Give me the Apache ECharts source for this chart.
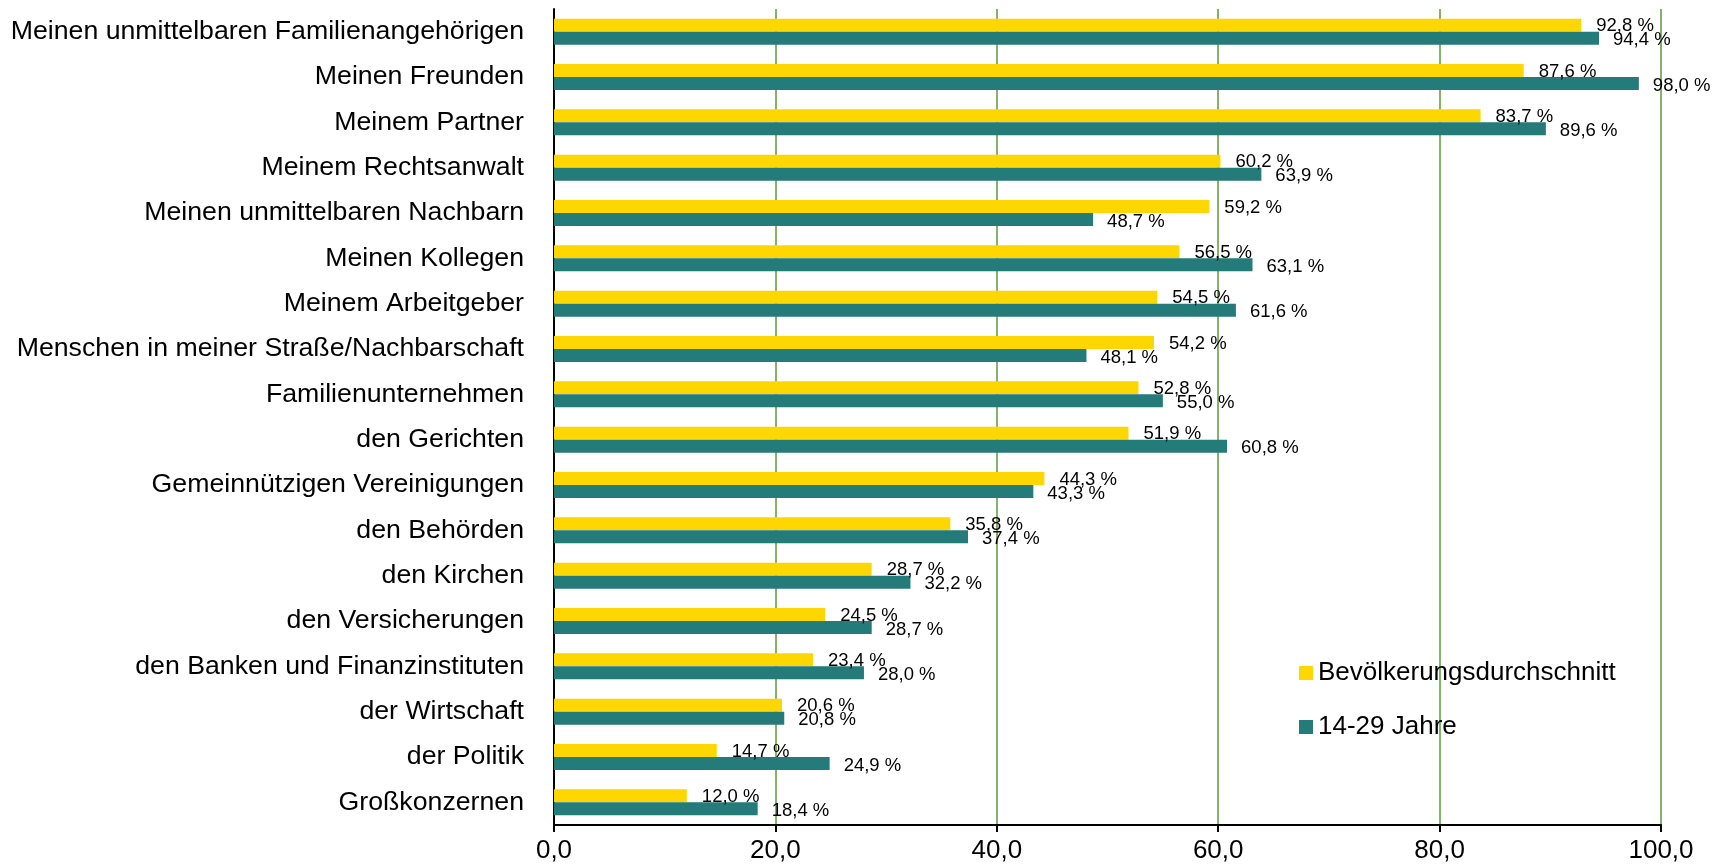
<!DOCTYPE html>
<html><head><meta charset="utf-8">
<script src="https://cdn.jsdelivr.net/npm/echarts@6/dist/echarts.min.js"></script>
<style>html,body{margin:0;padding:0;background:#fff}#c{width:1725px;height:867px}</style>
</head><body><div id="c"></div>
<script>
const categories = ["Meinen unmittelbaren Familienangehörigen","Meinen Freunden","Meinem Partner","Meinem Rechtsanwalt","Meinen unmittelbaren Nachbarn","Meinen Kollegen","Meinem Arbeitgeber","Menschen in meiner Straße/Nachbarschaft","Familienunternehmen","den Gerichten","Gemeinnützigen Vereinigungen","den Behörden","den Kirchen","den Versicherungen","den Banken und Finanzinstituten","der Wirtschaft","der Politik","Großkonzernen"];
const seriesNames = ["Bevölkerungsdurchschnitt","14-29 Jahre"];
const avgValues = [92.8,87.6,83.7,60.2,59.2,56.5,54.5,54.2,52.8,51.9,44.3,35.8,28.7,24.5,23.4,20.6,14.7,12.0];
const youthValues = [94.4,98.0,89.6,63.9,48.7,63.1,61.6,48.1,55.0,60.8,43.3,37.4,32.2,28.7,28.0,20.8,24.9,18.4];
const xTicks = [0,20,40,60,80,100];

const fmtPct = p => p.value.toFixed(1).replace('.', ',') + ' %';
const font = 'Liberation Sans, Arial, sans-serif';
const chart = echarts.init(document.getElementById('c'), null, {renderer:'canvas'});
chart.setOption({
  animation:false,
  textStyle:{fontFamily:font},
  grid:{left:554,right:64,top:9,bottom:42,containLabel:false},
  legend:{
    orient:'vertical', left:1294, top:655, itemWidth:14, itemHeight:14, itemGap:28,
    icon:'rect',
    textStyle:{fontSize:26, color:'#000', fontFamily:font},
    data:seriesNames
  },
  xAxis:{
    type:'value', min:xTicks[0], max:xTicks[xTicks.length-1], interval:20,
    axisLine:{show:true, lineStyle:{color:'#000', width:2}},
    axisTick:{show:true, length:7, lineStyle:{color:'#000', width:2}},
    axisLabel:{fontSize:26, color:'#000', margin:13, formatter:v=>v.toFixed(1).replace('.', ',')},
    splitLine:{show:true, lineStyle:{color:'#82B366', width:2}}
  },
  yAxis:{
    type:'category', data:categories, inverse:true,
    axisLine:{show:true, lineStyle:{color:'#000', width:2}},
    axisTick:{show:false},
    axisLabel:{fontSize:26.7, color:'#000', margin:30}
  },
  series:[
    {name:seriesNames[0], type:'bar', data:avgValues, barWidth:13, barGap:'0%',
     itemStyle:{color:'#FFD700'},
     label:{show:true, position:'right', distance:15, offset:[0,1], fontSize:18.5, color:'#000', formatter:fmtPct}},
    {name:seriesNames[1], type:'bar', data:youthValues, barWidth:13, barGap:'0%',
     itemStyle:{color:'#237B7A'},
     label:{show:true, position:'right', distance:14, offset:[0,2], fontSize:18.5, color:'#000', formatter:fmtPct}}
  ]
});
</script></body></html>
